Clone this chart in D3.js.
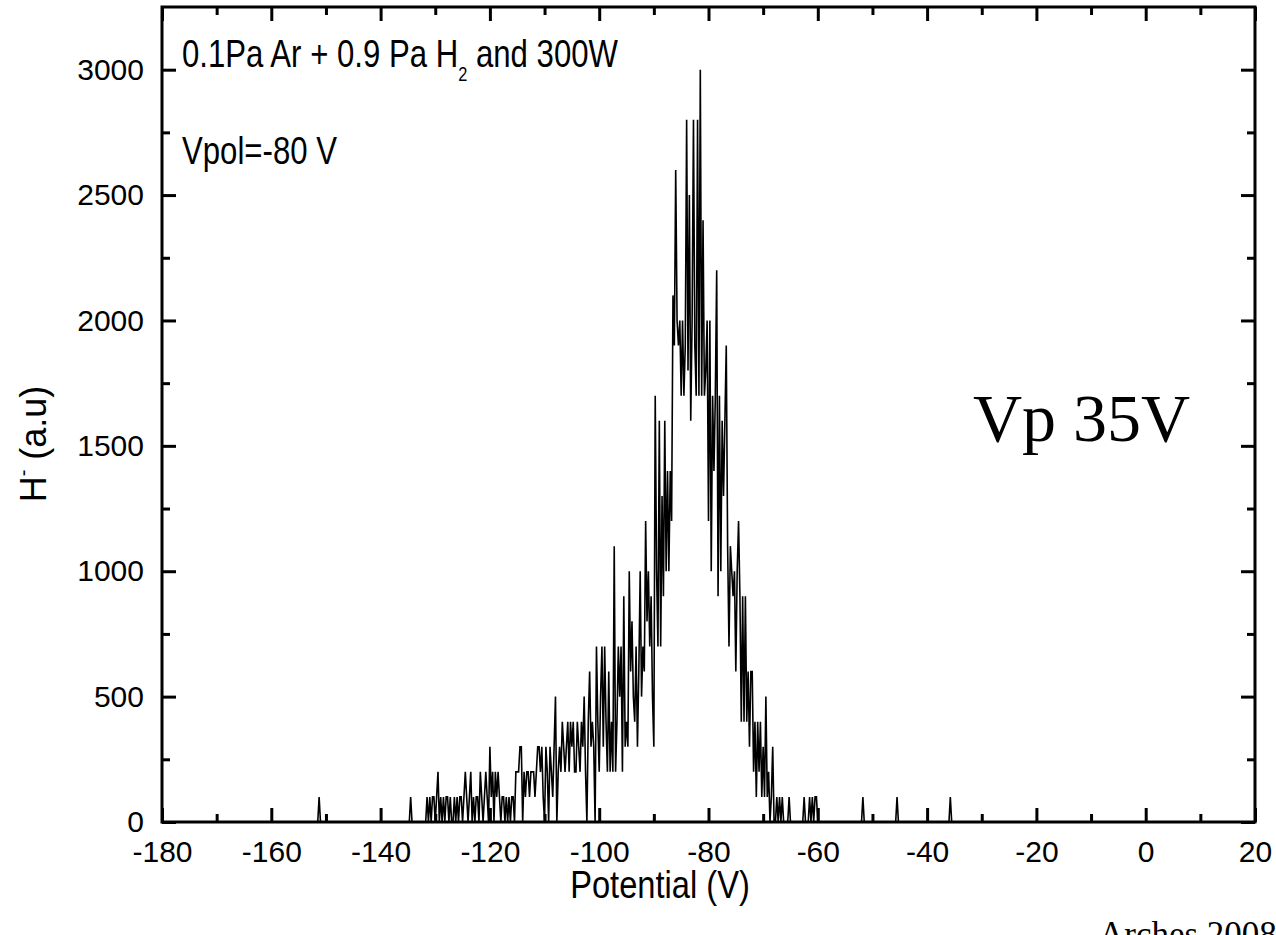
<!DOCTYPE html>
<html>
<head>
<meta charset="utf-8">
<script src="https://cdn.jsdelivr.net/npm/d3@7"></script>
<style>
  html, body { margin: 0; padding: 0; background: #fff; overflow: hidden; }
  text { fill: #000; }
</style>
</head>
<body>
<svg id="chart" width="1276" height="935"></svg>
<script>
// H- signal versus extraction potential, sampled every 0.25 V from -136 V to -58 V
const potentialStart = -136;
const potentialStep = 0.25;
const hCounts = [
  0,0,0,0,        0,0,100,0,      0,0,0,0,        0,0,0,0,
  0,0,100,0,      100,0,100,100,  0,100,200,0,    100,0,100,0,
  100,100,0,100,  0,0,100,0,      100,0,100,100,  0,100,200,100,
  0,100,200,0,    100,0,100,100,  0,200,100,0,    100,200,100,0,
  300,100,200,0,  200,100,200,100, 0,100,100,0,   100,0,100,0,
  100,100,0,200,  200,200,300,300, 0,200,100,200, 200,100,200,200,
  200,100,200,300, 300,200,300,100, 0,300,200,0,  300,200,100,300,
  500,0,200,300,  200,400,300,200, 300,400,200,400, 300,400,200,200,
  400,300,200,400, 300,500,200,0,  400,600,300,400, 300,0,700,400,
  200,500,700,300, 700,400,200,600, 200,400,200,1100, 200,400,700,500,
  700,200,900,300, 400,300,1000,600, 800,500,400,700, 300,600,1000,500,
  700,600,1200,800, 1000,700,900,500, 300,1700,1000,700, 1600,700,1300,900,
  1600,1000,1400,1000, 1400,1200,2100,1900, 2600,2000,1900,2000, 1700,2000,1700,1900,
  2800,1800,2500,1600, 2000,2800,1900,1700, 2800,1700,3000,1700, 2400,1700,1800,2000,
  1200,2000,1000,1700, 1400,1700,2200,900, 1700,1000,1600,1300, 1600,1900,1100,700,
  1100,1000,900,1000, 600,1000,1200,900, 400,900,400,900, 400,600,300,600,
  600,200,400,100, 400,200,400,100, 300,100,500,100, 200,0,100,300,
  0,0,100,0,      100,0,100,0,    0,0,0,100,      0,0,0,0,
  0,0,0,0,        0,0,100,0,      0,0,100,0,      100,0,100,100,
  0,0,0,0,        0,0,0,0,        0
];

// Isolated single-count events away from the main distribution
const spikePotential = [-151.25, -51.75, -45.5, -35.75];
const spikeCounts = [100, 100, 100, 100];

// Axis ticks
const xMajorTicks = [-180, -160, -140, -120, -100, -80, -60, -40, -20, 0, 20];
const xMinorTicks = [-170, -150, -130, -110, -90, -70, -50, -30, -10, 10];
const yMajorTicks = [0, 500, 1000, 1500, 2000, 2500, 3000];
const yMinorTicks = [250, 750, 1250, 1750, 2250, 2750];

const xDomain = [-180, 20];
const yDomain = [0, 3250];

const sans = '"Liberation Sans", Arial, Helvetica, sans-serif';
const serif = '"Liberation Serif", "Times New Roman", Times, serif';

const svg = d3.select('#chart');
const plot = { left: 162, right: 1255, top: 7, bottom: 822 };

const x = d3.scaleLinear().domain(xDomain).range([plot.left, plot.right]);
const y = d3.scaleLinear().domain(yDomain).range([plot.bottom, plot.top]);

// Assemble the trace: flat baseline, isolated events, main distribution
const mainPoints = hCounts.map((h, i) => ({ v: potentialStart + i * potentialStep, h }));
const spikePoints = spikePotential.map((v, i) => [
  { v: v - potentialStep, h: 0 }, { v, h: spikeCounts[i] }, { v: v + potentialStep, h: 0 }
]).flat();
const trace = [{ v: xDomain[0], h: 0 }, ...spikePoints, ...mainPoints, { v: xDomain[1], h: 0 }]
  .sort((a, b) => a.v - b.v);

svg.append('defs').append('clipPath').attr('id', 'plot-clip')
  .append('rect')
  .attr('x', plot.left).attr('y', plot.top)
  .attr('width', plot.right - plot.left).attr('height', plot.bottom - plot.top);

svg.append('path')
  .datum(trace)
  .attr('clip-path', 'url(#plot-clip)')
  .attr('fill', 'none')
  .attr('stroke', '#000')
  .attr('stroke-width', 1.6)
  .attr('stroke-linejoin', 'miter')
  .attr('d', d3.line().x(d => x(d.v)).y(d => y(d.h)));

// Axes: ticks pointing inward on all four sides
function styleAxis(g) {
  g.select('.domain').remove();
  g.selectAll('.tick line').attr('stroke', '#000').attr('stroke-width', 3);
  g.selectAll('.tick text')
    .attr('font-family', sans).attr('font-size', 30).attr('fill', '#000');
}

const MAJOR = 14, MINOR = 8;
const plainNumber = d => String(d);

svg.append('g').attr('transform', `translate(0,${plot.bottom})`)
  .call(d3.axisBottom(x).tickValues(xMajorTicks).tickSize(-MAJOR).tickPadding(19)
    .tickFormat(plainNumber))
  .call(styleAxis);
svg.append('g').attr('transform', `translate(0,${plot.bottom})`)
  .call(d3.axisBottom(x).tickValues(xMinorTicks).tickSize(-MINOR).tickFormat(''))
  .call(styleAxis);
svg.append('g').attr('transform', `translate(0,${plot.top})`)
  .call(d3.axisTop(x).tickValues(xMajorTicks).tickSize(-MAJOR).tickFormat(''))
  .call(styleAxis);
svg.append('g').attr('transform', `translate(0,${plot.top})`)
  .call(d3.axisTop(x).tickValues(xMinorTicks).tickSize(-MINOR).tickFormat(''))
  .call(styleAxis);

svg.append('g').attr('transform', `translate(${plot.left},0)`)
  .call(d3.axisLeft(y).tickValues(yMajorTicks).tickSize(-MAJOR).tickPadding(18)
    .tickFormat(plainNumber))
  .call(styleAxis);
svg.append('g').attr('transform', `translate(${plot.left},0)`)
  .call(d3.axisLeft(y).tickValues(yMinorTicks).tickSize(-MINOR).tickFormat(''))
  .call(styleAxis);
svg.append('g').attr('transform', `translate(${plot.right},0)`)
  .call(d3.axisRight(y).tickValues(yMajorTicks).tickSize(-MAJOR).tickFormat(''))
  .call(styleAxis);
svg.append('g').attr('transform', `translate(${plot.right},0)`)
  .call(d3.axisRight(y).tickValues(yMinorTicks).tickSize(-MINOR).tickFormat(''))
  .call(styleAxis);

// Frame
svg.append('rect')
  .attr('x', plot.left).attr('y', plot.top)
  .attr('width', plot.right - plot.left).attr('height', plot.bottom - plot.top)
  .attr('fill', 'none').attr('stroke', '#000').attr('stroke-width', 3);

// Axis titles
svg.append('text')
  .attr('transform', 'translate(660,898) scale(0.86,1)')
  .attr('text-anchor', 'middle')
  .attr('font-family', sans).attr('font-size', 38)
  .text('Potential (V)');

const yTitle = svg.append('text')
  .attr('transform', 'translate(46,444) rotate(-90)')
  .attr('text-anchor', 'middle')
  .attr('font-family', sans).attr('font-size', 36);
yTitle.append('tspan').text('H');
yTitle.append('tspan').attr('dy', -16).attr('font-size', 20).text('-');
yTitle.append('tspan').attr('dy', 16).text(' (a.u)');

// Conditions annotation
const cond = svg.append('text')
  .attr('transform', 'translate(182,66.5) scale(0.82,1)')
  .attr('font-family', sans).attr('font-size', 38);
cond.append('tspan').text('0.1Pa Ar + 0.9 Pa H');
cond.append('tspan').attr('dy', 14).attr('font-size', 20).text('2');
cond.append('tspan').attr('dy', -14).text(' and 300W');

svg.append('text')
  .attr('transform', 'translate(182,164) scale(0.82,1)')
  .attr('font-family', sans).attr('font-size', 38)
  .text('Vpol=-80 V');

svg.append('text')
  .attr('x', 973).attr('y', 441)
  .attr('font-family', serif).attr('font-size', 68)
  .text('Vp 35V');

svg.append('text')
  .attr('x', 1099).attr('y', 946)
  .attr('font-family', serif).attr('font-size', 35)
  .text('Arches 2008');
</script>
</body>
</html>
